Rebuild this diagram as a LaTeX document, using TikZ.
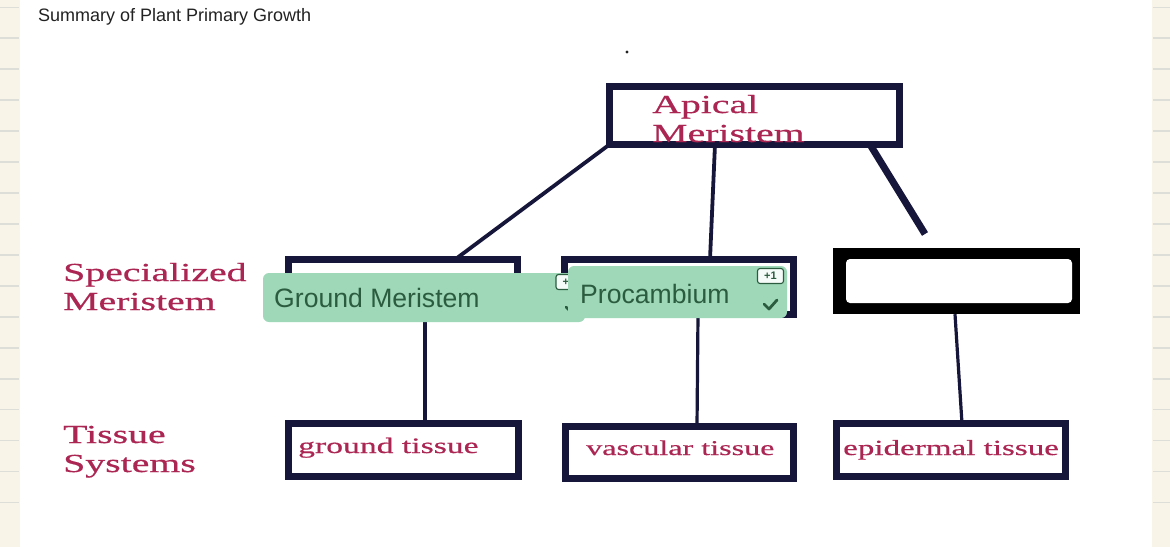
\documentclass[tikz,border=0pt]{standalone}
\usepackage{fontspec}
\setmainfont{Liberation Serif}
\newfontfamily\sansf{Liberation Sans}
\newfontfamily\didot{Liberation Serif}[FakeStretch=1.53,FakeBold=0.6]
\definecolor{navy}{RGB}{22,22,58}
\definecolor{crim}{RGB}{172,38,84}
\definecolor{cream}{RGB}{248,245,232}
\definecolor{gridc}{RGB}{222,222,216}
\definecolor{mint}{RGB}{158,216,184}
\definecolor{dgreen}{RGB}{44,92,64}
\definecolor{titlec}{RGB}{34,34,34}
\pgfdeclarelayer{bg}
\pgfdeclarelayer{lines}
\pgfsetlayers{bg,lines,main}
\tikzset{
  navybox/.style={draw=navy, line width=7pt, fill=white, inner sep=0pt, outer sep=0pt, minimum width=229pt, minimum height=55pt},
  conn/.style={draw=navy, line width=3.8pt},
  vconn/.style={draw=navy, line width=3.2pt},
  redtext/.style={text=crim, inner sep=0pt, anchor=base west},
  sidelabel/.style={redtext, font=\didot\fontsize{26}{29}\selectfont},
  tisstext/.style={redtext, font=\didot\fontsize{22}{24}\selectfont},
  mintlabel/.style={fill=mint, rounded corners=6pt, inner sep=0pt},
  minttext/.style={text=dgreen, inner sep=0pt, anchor=base west, font=\sansf\fontsize{26.6}{28}\selectfont},
  badge/.style={draw=dgreen, fill=white!90!mint, line width=1.1pt, rounded corners=2.5pt, inner sep=0pt, minimum width=26pt, minimum height=15pt, text=dgreen, font=\sansf\bfseries\fontsize{11}{12}\selectfont},
  tick/.style={draw=dgreen, line width=2.8pt, line cap=round, line join=round}
}
\begin{document}
\begin{tikzpicture}[x=1pt,y=-1pt]
\useasboundingbox (0,0) rectangle (1170,547);
\begin{pgfonlayer}{bg}
  \fill[cream] (0,0) rectangle (1170,547);
  \fill[white] (20,0) rectangle (1152,547);
  \foreach \k in {0,...,16} {
    \draw[gridc, line width=1.6pt] (0,7.3+30.95*\k) -- (19,7.3+30.95*\k);
    \draw[gridc, line width=1.6pt] (1153,7.3+30.95*\k) -- (1170,7.3+30.95*\k);
  }
\end{pgfonlayer}

% title
\node[anchor=base west, inner sep=0pt, text=titlec, font=\sansf\fontsize{18}{20}\selectfont] (title) at (38,21) {Summary of Plant Primary Growth};
\fill[titlec] (627,52) circle (1.6);

% apical meristem
\node[navybox, minimum width=290pt, minimum height=58pt] (apical) at (754.5,115.5) {};
\node[sidelabel] (ap1) at (652,113) {Apical};
\node[sidelabel] (ap2) at (652,142) {Meristem};

% side labels
\node[sidelabel] (sp1) at (63,281) {Specialized};
\node[sidelabel] (sp2) at (63,310) {Meristem};
\node[sidelabel] (ts1) at (63,443) {Tissue};
\node[sidelabel] (ts2) at (63,472) {Systems};

% specialized meristem boxes
\node[navybox] (gm) at (403,287) {};
\node[navybox] (pc) at (679,287) {};
\node[fill=black, inner sep=0pt, minimum width=247pt, minimum height=66pt] (pd) at (956.5,281) {};
\node[fill=white, rounded corners=4pt, inner sep=0pt, minimum width=226pt, minimum height=44pt] (pdmask) at (959,281) {};
\coordinate (pdtop) at (925,234);

% tissue boxes
\node[navybox, minimum width=230pt, minimum height=53pt] (gt) at (403.5,450) {};
\node[navybox, minimum width=228pt, minimum height=52pt] (vt) at (679.5,452.5) {};
\node[navybox, minimum width=229pt, minimum height=53pt] (et) at (951,450) {};
\node[tisstext] (gtt) at (298,453) {ground tissue};
\node[tisstext, font=\didot\fontsize{21}{23}\selectfont] (vtt) at (586,455) {vascular tissue};
\node[tisstext, font=\didot\fontsize{21.6}{23}\selectfont] (ett) at (843,455) {epidermal tissue};

% connectors
\begin{pgfonlayer}{lines}
  \draw[conn] (apical.south west) -- ([xshift=52pt]gm.north);
  \draw[conn] ([xshift=-39.5pt]apical.south) -- ([xshift=31pt]pc.north);
  \draw[conn, line width=7pt] ([xshift=115.5pt]apical.south) -- (pdtop);
  \draw[vconn] ([xshift=22pt]gm.south) -- ([xshift=21.5pt]gt.north);
  \draw[vconn] ([xshift=19pt]pc.south) -- ([xshift=17.5pt]vt.north);
  \draw[vconn] ([xshift=-1.5pt]pd.south) -- ([xshift=11pt]et.north);
\end{pgfonlayer}

% green answer labels
\node[mintlabel, minimum width=322pt, minimum height=49pt] (gml) at (424,297.5) {};
\node[minttext] (gmt) at (274,307) {Ground Meristem};
\node[badge] (gmb) at (569,282) {+1};
\draw[tick] (566,307) -- (571,312) -- (580,302);
\node[mintlabel, minimum width=219pt, minimum height=52pt] (pcl) at (677.5,292) {};
\node[minttext] (pct) at (580,303) {Procambium};
\node[badge] (pcb) at (770.5,276) {+1};
\draw[tick] (764,304) -- (769,309) -- (777,300);
\end{tikzpicture}
\end{document}
